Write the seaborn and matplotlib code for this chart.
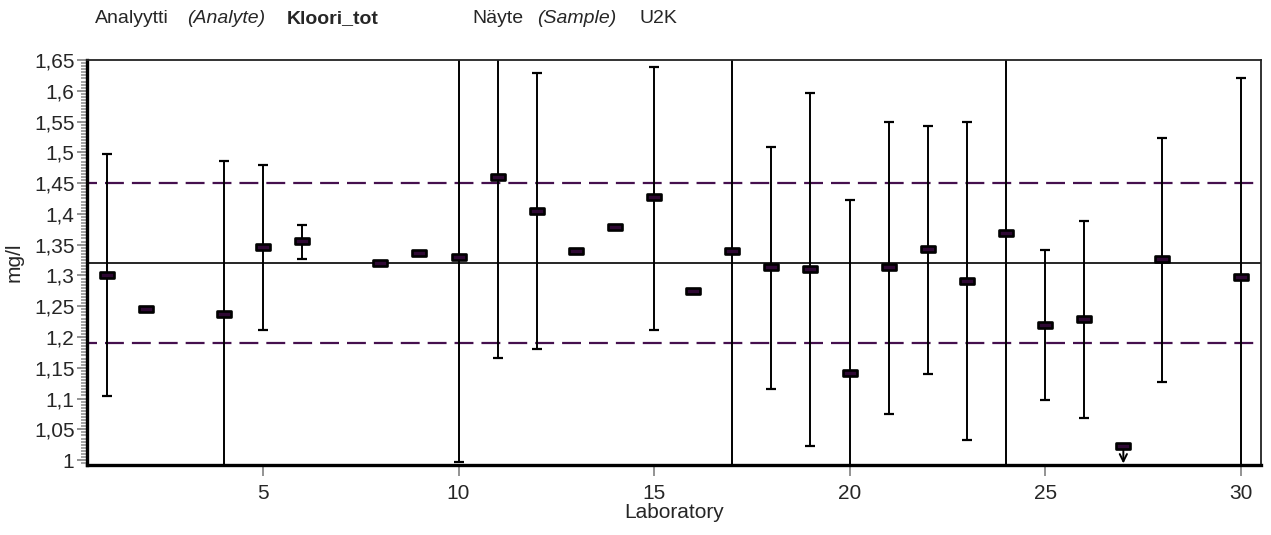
import numpy as np
import pandas as pd
import matplotlib
matplotlib.use('Agg')
import matplotlib.pyplot as plt
import seaborn as sns
from matplotlib.path import Path
from matplotlib.ticker import MultipleLocator, FuncFormatter

# ---- data ----
labs = [1, 2, 4, 5, 6, 8, 9, 10, 11, 12, 13, 14, 15, 16, 17, 18, 19, 20,
        21, 22, 23, 24, 25, 26, 27, 28, 30]
values = [1.300, 1.245, 1.238, 1.346, 1.356, 1.320, 1.337, 1.330, 1.460,
          1.405, 1.339, 1.379, 1.428, 1.274, 1.339, 1.313, 1.310, 1.141,
          1.313, 1.343, 1.291, 1.369, 1.219, 1.229, 1.023, 1.326, 1.297]

err_labs = [1, 4, 5, 6, 10, 11, 12, 15, 17, 18, 19, 20, 21, 22, 23, 24,
            25, 26, 28, 30]
err_low = [1.104, 0.90, 1.212, 1.326, 0.997, 1.166, 1.180, 1.212, 0.90,
           1.115, 1.023, 0.90, 1.075, 1.140, 1.033, 0.90, 1.098, 1.069,
           1.127, 0.90]
err_high = [1.497, 1.486, 1.480, 1.382, 1.75, 1.75, 1.629, 1.639, 1.75,
            1.509, 1.596, 1.423, 1.549, 1.542, 1.549, 1.75, 1.342, 1.389,
            1.524, 1.620]

below_labs = [27]          # result marked with a downward arrow
assigned_value = 1.32
lower_limit = 1.19
upper_limit = 1.45

x_ticks = [5, 10, 15, 20, 25, 30]

# ---- style ----
sns.set_style('white')
plt.rcParams['font.family'] = ['Liberation Sans', 'DejaVu Sans']

purple = '#45104e'
marker_fill = '#2e0833'
grey = '#8a8a8a'

fig = plt.figure(figsize=(12.71, 5.35), dpi=100)
ax = fig.add_axes([87 / 1271, 1 - 465 / 535, (1261 - 87) / 1271, (465 - 60) / 535])

df = pd.DataFrame({'lab': labs, 'value': values})
val_map = dict(zip(labs, values))
centers = np.array([val_map[l] for l in err_labs])
yerr = np.vstack([centers - np.array(err_low), np.array(err_high) - centers])

# reference lines
ax.axhline(upper_limit, color=purple, lw=1.6, ls=(4, (8.5, 3.6)), zorder=1)
ax.axhline(lower_limit, color=purple, lw=1.6, ls=(4, (8.5, 3.6)), zorder=1)
ax.axhline(assigned_value, color='black', lw=1.2, zorder=1)

# error bars
_, caps, bars = ax.errorbar(err_labs, centers, yerr=yerr, fmt='none',
                            ecolor='black', elinewidth=1.4, capsize=3.4,
                            capthick=1.6, zorder=2)
for c in caps:
    c.set_color(purple)

# markers
rect = Path([(-1, -0.42), (1, -0.42), (1, 0.42), (-1, 0.42), (-1, -0.42)],
            [Path.MOVETO, Path.LINETO, Path.LINETO, Path.LINETO, Path.CLOSEPOLY])
sns.scatterplot(data=df, x='lab', y='value', marker=rect, s=95,
                color=marker_fill, edgecolor='black', linewidth=1.9,
                ax=ax, zorder=4, legend=False)

for bl in below_labs:
    ax.annotate('', xy=(bl, 0.9945), xytext=(bl, val_map[bl] - 0.004),
                arrowprops=dict(arrowstyle='->', color='black', lw=1.4,
                                mutation_scale=13, shrinkA=0, shrinkB=0),
                zorder=3)

# axes
ax.set_xlim(0.5, 30.52)
ax.set_ylim(0.992, 1.65)
ax.set_xticks(x_ticks)
ax.yaxis.set_major_locator(MultipleLocator(0.05))
ax.yaxis.set_minor_locator(MultipleLocator(0.005))
ax.yaxis.set_major_formatter(FuncFormatter(lambda v, p: f"{round(v, 3):g}".replace('.', ',')))

ax.tick_params(axis='y', which='major', direction='out', length=7, width=1.3,
               color=grey, labelsize=15, pad=2, left=True)
ax.tick_params(axis='y', which='minor', direction='out', length=4, width=1.1,
               color=grey, left=True)
ax.tick_params(axis='x', which='major', direction='out', length=8, width=1.3,
               color=grey, labelsize=15, pad=6, bottom=True)

for side in ['left', 'bottom']:
    ax.spines[side].set_linewidth(2.4)
    ax.spines[side].set_color('black')
for side in ['top', 'right']:
    ax.spines[side].set_linewidth(1.3)
    ax.spines[side].set_color('#222222')
    ax.spines[side].set_visible(True)
ax.spines['left'].set_visible(True)
ax.spines['bottom'].set_visible(True)

ax.set_xlabel('Laboratory', fontsize=15)
ax.set_ylabel('mg/l', fontsize=15)
ax.xaxis.set_label_coords(0.5, -0.094)
ax.yaxis.set_label_coords(-0.054, 0.5)

# header
yb = 1 - 23 / 535
fig.text(95 / 1271, yb, 'Analyytti', fontsize=14, va='baseline')
fig.text(187 / 1271, yb, '(Analyte)', fontsize=14, style='italic', va='baseline')
fig.text(287 / 1271, yb, 'Kloori_tot', fontsize=14, weight='bold', va='baseline')
fig.text(472 / 1271, yb, 'Näyte', fontsize=14, va='baseline')
fig.text(537 / 1271, yb, '(Sample)', fontsize=14, style='italic', va='baseline')
fig.text(639 / 1271, yb, 'U2K', fontsize=14, va='baseline')

fig.savefig('out.png', dpi=100)
